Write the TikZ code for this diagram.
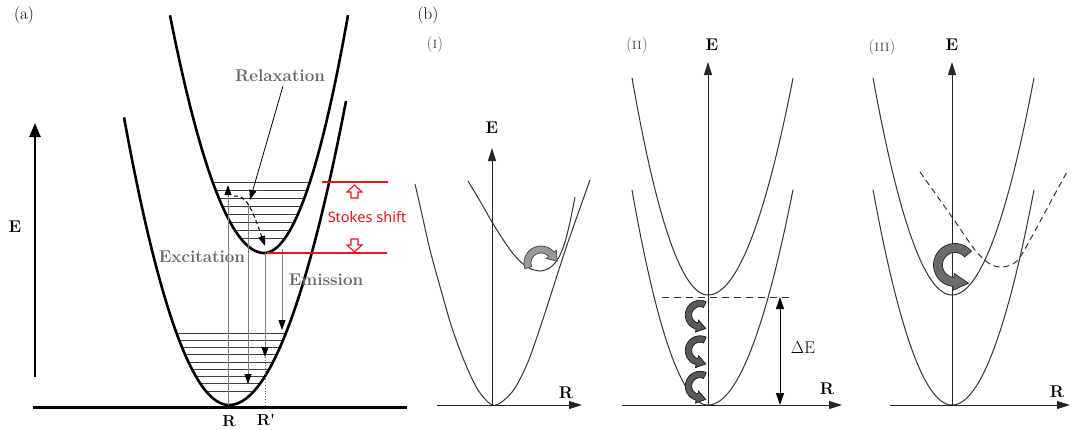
\documentclass[tikz,border=0pt]{standalone}
\usepackage{fontspec}
\newfontfamily\stokesfont{Noto Sans}
\usetikzlibrary{arrows.meta,calc}
\definecolor{lbl}{HTML}{666666}
\definecolor{stk}{HTML}{E8141B}
\definecolor{crv}{HTML}{333333}
\newcommand\curlarrow[9]{%
 \pgfmathsetmacro\cTan{#6+90*sign(#6-#5)}%
 \pgfmathsetmacro\cRo{#3+#4}%
 \pgfmathsetmacro\cRi{#3-#4}%
 \pgfmathsetmacro\cHo{#3+#4+#8}%
 \pgfmathsetmacro\cHi{#3-#4-#8}%
 \filldraw[#9] plot[domain=#5:#6,samples=40] ({#1+\cRo*cos(\x)},{#2+\cRo*sin(\x)})
   -- ({#1+\cHo*cos(#6)},{#2+\cHo*sin(#6)})
   -- ({#1+#3*cos(#6)+#7*cos(\cTan)},{#2+#3*sin(#6)+#7*sin(\cTan)})
   -- ({#1+\cHi*cos(#6)},{#2+\cHi*sin(#6)})
   -- plot[domain=#6:#5,samples=40] ({#1+\cRi*cos(\x)},{#2+\cRi*sin(\x)})
   -- cycle;}
\begin{document}
\begin{tikzpicture}[x=1pt,y=-1pt,
 pot/.style={line width=2.6pt, black},
 lev/.style={line width=0.9pt, black!75},
 vl/.style={line width=0.8pt, black!50},
 dn/.style={-{Triangle[length=10pt,width=7pt,color=black]}},
 pc/.style={line width=1pt, crv},
 ax/.style={line width=1pt, black!85, -{Triangle[length=13pt,width=8pt]}},
 glab/.style={inner sep=0pt, text=lbl, font=\fontsize{17}{17}\selectfont\bfseries},
 blab/.style={inner sep=0pt, font=\fontsize{17}{17}\selectfont\bfseries},
 plab/.style={inner sep=0pt, font=\fontsize{17}{17}\selectfont},
 nlab/.style={inner sep=0pt, text=black!70, font=\fontsize{16}{16}\selectfont},
 stokes/.style={inner sep=0pt, text=stk, font=\stokesfont\fontsize{14.5}{14.5}\selectfont},
 stkline/.style={stk, line width=1.3pt},
 hollow/.style={stk, line width=1.1pt, fill=white},
 curlI/.style={fill=black!40, draw=black!75, line width=0.7pt},
 curlII/.style={fill=black!65, draw=black!90, line width=0.7pt},
 curlIII/.style={fill=black!58, draw=black!85, line width=0.7pt},
 dsh/.style={pc, dash pattern=on 6pt off 4pt}
]
\useasboundingbox (0,0) rectangle (1072,429);

% ================= panel (a) =================
\node[plab] (la) at (24,15) {(a)};
\node[blab] (Ea) at (15,227) {E};
\coordinate (eaB) at (35,377); \coordinate (eaT) at (35,123);
\draw[line width=2.5pt, -{Triangle[length=14pt,width=11pt]}] (eaB) -- (eaT);
\coordinate (blL) at (33,407); \coordinate (blR) at (407,407);
\draw[line width=3pt] (blL) -- (blR);

% levels
\foreach \yy in {182,190,198,206,214,222,230,238}{
  \pgfmathsetmacro\xl{264-sqrt((253-\yy)/0.0269)}
  \pgfmathsetmacro\xr{264+sqrt((253-\yy)/0.0337)}
  \draw[lev] (\xl,\yy) -- (\xr,\yy);}
\foreach \yy in {333,340.25,347.5,354.75,362,369.25,376.5,383.75,391}{
  \pgfmathsetmacro\xl{229-sqrt((405-\yy)/0.0261)}
  \pgfmathsetmacro\xr{229+sqrt((405-\yy)/0.0222)}
  \draw[lev] (\xl,\yy) -- (\xr,\yy);}

% potential curves
\draw[pot] plot[domain=170:264,samples=60] (\x,{253-0.0269*(\x-264)^2})
  -- plot[domain=264:348,samples=60] (\x,{253-0.0337*(\x-264)^2});
\draw[pot] plot[domain=124:229,samples=60] (\x,{405-0.0261*(\x-229)^2})
  -- plot[domain=229:346,samples=60] (\x,{405-0.0222*(\x-229)^2});

% vertical transitions
\coordinate (x1b) at (228,405); \coordinate (x1t) at (228,185);
\draw[vl, dn] (x1b) -- (x1t);
\coordinate (x2t) at (248,205); \coordinate (x2b) at (248,384);
\draw[vl, dn] (x2t) -- (x2b);
\coordinate (x3t) at (265,253); \coordinate (x3b) at (265,357); \coordinate (x3g) at (265,405);
\draw[vl, dn] (x3t) -- (x3b);
\draw[line width=0.8pt, black!60, dotted] (x3b) -- (x3g);
\coordinate (x4t) at (282,249); \coordinate (x4b) at (282,330);
\draw[vl, dn] (x4t) -- (x4b);

% relaxation
\coordinate (rl1) at (234,196); \coordinate (rl2) at (265,246);
\draw[line width=1pt, dash pattern=on 4pt off 3pt, dn] (rl1) .. controls (246,195) and (251,206) .. (rl2);
\node[glab] (relax) at (280,76) {Relaxation};
\coordinate (rp1) at (283,86); \coordinate (rp2) at (250,200);
\draw[line width=0.8pt, dn] (rp1) -- (rp2);
\node[glab] (excit) at (202,257) {Excitation};
\node[glab] (emis) at (326,280) {Emission};
\node[blab, font=\fontsize{16}{16}\selectfont\bfseries] (Ra) at (229,421) {R};
\node[blab, font=\fontsize{16}{16}\selectfont\bfseries] (Rpa) at (266,420) {R\textquotesingle};

% Stokes shift
\coordinate (s1a) at (322,182); \coordinate (s1b) at (388,182);
\coordinate (s2a) at (267,253); \coordinate (s2b) at (387,253);
\draw[stkline] (s1a) -- (s1b);
\draw[stkline] (s2a) -- (s2b);
\draw[hollow] (354.5,185) -- (362,192) -- (358,192) -- (358,198) -- (351,198) -- (351,192) -- (347,192) -- cycle;
\draw[hollow] (354.5,252) -- (362,245) -- (358,245) -- (358,239) -- (351,239) -- (351,245) -- (347,245) -- cycle;
\node[stokes] (stokes) at (367,217) {Stokes shift};

% ================= panel (b) =================
\node[plab] (lb) at (428,15) {(b)};
\node[nlab] (n1) at (435,45) {(\textsc{i})};
\node[nlab] (n2) at (637,46) {(\textsc{ii})};
\node[nlab] (n3) at (882,48) {(\textsc{iii})};

% ---- (I)
\draw[pc] plot[smooth] coordinates {(415,184) (421,210) (430,250) (441,290) (452,328) (465,363) (478,390) (492,405) (503,401) (515,388) (528,362) (541,325) (554,285) (567,245) (590,180)};
\draw[pc] plot[smooth] coordinates {(468,181) (480,201) (492,222) (504,241) (515,256) (527,267) (540,271) (551,267) (559,257) (565,242) (570,222) (575,197)};
\coordinate (o1) at (492,405); \coordinate (e1) at (492,148);
\coordinate (b1a) at (437,405); \coordinate (b1b) at (582,405);
\draw[ax] (o1) -- (e1);
\draw[ax] (b1a) -- (b1b);
\node[blab] (E1) at (492,128) {E};
\node[blab] (R1) at (566,393) {R};
\curlarrow{541}{263}{13.5}{3.5}{160}{320}{9}{3}{curlI}

% ---- (II)
\draw[pc] plot[domain=632:708,samples=50] (\x,{295-0.0376*(\x-708)^2})
  -- plot[domain=708:793,samples=50] (\x,{295-0.0300*(\x-708)^2});
\draw[pc] plot[domain=632:708,samples=50] (\x,{405-0.0372*(\x-708)^2})
  -- plot[domain=708:793,samples=50] (\x,{405-0.0298*(\x-708)^2});
\coordinate (o2) at (708,405); \coordinate (e2) at (708,62);
\coordinate (b2a) at (622,405); \coordinate (b2b) at (842,405);
\draw[ax] (o2) -- (e2);
\draw[ax] (b2a) -- (b2b);
\coordinate (d2a) at (662,297); \coordinate (d2b) at (792,297);
\draw[line width=1pt, black!80, dash pattern=on 7pt off 5pt] (d2a) -- (d2b);
\coordinate (de1) at (780,297); \coordinate (de2) at (780,405);
\draw[line width=1pt, {Triangle[length=12pt,width=8pt]}-{Triangle[length=12pt,width=8pt]}] (de1) -- (de2);
\node[plab] (dE) at (803,348) {$\Delta$E};
\node[blab] (E2) at (712,45) {E};
\node[blab] (R2) at (827,389) {R};
\curlarrow{700}{315}{11.5}{3.2}{-65}{-255}{9}{3}{curlII}
\curlarrow{700}{350.5}{11.5}{3.2}{-65}{-255}{9}{3}{curlII}
\curlarrow{700}{386}{11.5}{3.2}{-65}{-255}{9}{3}{curlII}

% ---- (III)
\draw[pc] plot[domain=873:952,samples=50] (\x,{295-0.0348*(\x-952)^2})
  -- plot[domain=952:1034,samples=50] (\x,{295-0.0323*(\x-952)^2});
\draw[pc] plot[domain=873:952,samples=50] (\x,{405-0.0345*(\x-952)^2})
  -- plot[domain=952:1034,samples=50] (\x,{405-0.0320*(\x-952)^2});
\draw[dsh] plot[smooth] coordinates {(920,172) (952,217) (975,250) (990,264) (1003,267) (1017,261) (1030,240) (1050,203) (1068,170)};
\coordinate (o3) at (952,405); \coordinate (e3) at (952,62);
\coordinate (b3a) at (890,405); \coordinate (b3b) at (1070,405);
\draw[ax] (o3) -- (e3);
\draw[ax] (b3a) -- (b3b);
\node[blab] (E3) at (952,45) {E};
\node[blab] (R3) at (1057,392) {R};
\curlarrow{955}{265}{17}{4.5}{-40}{-265}{15}{4}{curlIII}
\end{tikzpicture}
\end{document}
